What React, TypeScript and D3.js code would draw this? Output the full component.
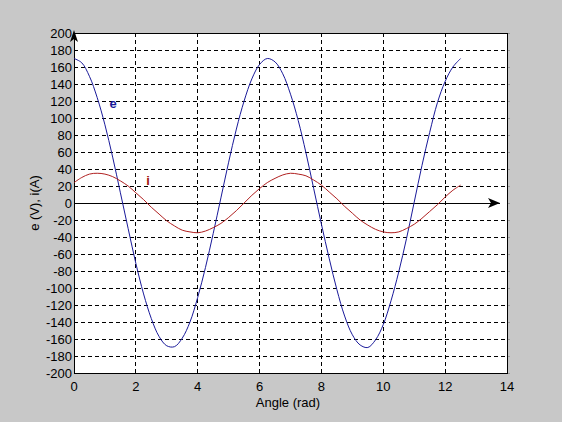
import React from "react";
import * as d3 from "d3";

const angles = [0,0.25,0.5,0.75,1,1.25,1.5,1.75,2,2.25,2.5,2.75,3,3.25,3.5,3.75,4,4.25,4.5,4.75,5,5.25,5.5,5.75,6,6.25,6.5,6.75,7,7.25,7.5,7.75,8,8.25,8.5,8.75,9,9.25,9.5,9.75,10,10.25,10.5,10.75,11,11.25,11.5,11.75,12,12.25,12.5];
const eValues = [170,165,149,124,92,54,12,-30,-71,-107,-136,-157,-168,-169,-159,-140,-111,-76,-36,6,48,87,120,146,163,170,166,152,128,97,59,17,-25,-65,-102,-133,-155,-167,-170,-161,-143,-115,-81,-42,1,44,83,118,143,160,170];
const iValues = [24,30,34,35,34,31,26,20,12,4,-5,-13,-21,-27,-32,-34,-35,-33,-29,-24,-17,-9,0,9,17,24,29,33,35,34,32,27,21,13,5,-4,-12,-20,-26,-31,-34,-35,-34,-30,-25,-18,-10,-2,7,15,21];
const xTicks = [0,2,4,6,8,10,12,14];
const yTicks = d3.range(-200, 201, 20);
const xLabel = "Angle (rad)";
const yLabel = "e (V), i(A)";

export default function App() {
  const W = 562, H = 422;
  const L = 74, R = 507, T = 33, B = 373;
  const x = d3.scaleLinear().domain([0, 14]).range([L, R]);
  const y = d3.scaleLinear().domain([-200, 200]).range([B, T]);
  const lineGen = (vals: number[]) =>
    d3.line<number>().x((_, k) => x(angles[k])).y((v) => y(v)).curve(d3.curveCatmullRom)(vals) || "";
  const font = "'Liberation Sans', Arial, sans-serif";
  const y0 = y(0);
  return (
    <svg width={W} height={H} style={{ position: "absolute", left: 0, top: 0 }} fontFamily={font}>
      <rect x={0} y={0} width={W} height={H} fill="#c8c8c8" />
      <rect x={L} y={T} width={R - L} height={B - T} fill="#ffffff" />
      {yTicks.filter(v => v !== -200 && v !== 200 && v !== 0).map(v => (
        <line key={"gy" + v} x1={L} x2={R} y1={y(v)} y2={y(v)} stroke="#000" strokeWidth={1} strokeDasharray="4,3" shapeRendering="crispEdges" />
      ))}
      {xTicks.filter(v => v !== 0 && v !== 14).map(v => (
        <line key={"gx" + v} x1={x(v)} x2={x(v)} y1={T} y2={B} stroke="#000" strokeWidth={1} strokeDasharray="4,3" shapeRendering="crispEdges" />
      ))}
      {yTicks.map(v => (
        <g key={"ty" + v}>
          <line x1={R} x2={R + 3} y1={y(v)} y2={y(v)} stroke="#999" shapeRendering="crispEdges" />
          <text x={L - 2} y={y(v)} dy="0.36em" textAnchor="end" fontSize={13} fill="#000">{v}</text>
        </g>
      ))}
      {xTicks.map(v => (
        <text key={"tx" + v} x={x(v)} y={391} textAnchor="middle" fontSize={13} fill="#000">{v}</text>
      ))}
      <text x={288} y={407} textAnchor="middle" fontSize={13} fill="#000">{xLabel}</text>
      <text transform={`translate(39,${y0}) rotate(-90)`} textAnchor="middle" fontSize={13} fill="#000">{yLabel}</text>
      <rect x={L} y={T} width={R - L} height={B - T} fill="none" stroke="#000" strokeWidth={1} shapeRendering="crispEdges" />
      <line x1={L} x2={500} y1={y0} y2={y0} stroke="#000" strokeWidth={1} shapeRendering="crispEdges" />
      <path d={`M500,${y0} L488,${y0 - 5} L491,${y0} L488,${y0 + 5} Z`} fill="#000" />
      <path d={`M${L},${T - 3} L${L - 4},${T + 9} L${L},${T + 6} L${L + 4},${T + 9} Z`} fill="#000" />
      <path d={lineGen(eValues)} fill="none" stroke="#1a1a9a" strokeWidth={1} />
      <path d={lineGen(iValues)} fill="none" stroke="#b02020" strokeWidth={1} />
      <text x={113} y={108} textAnchor="middle" fontSize={13} fontWeight="bold" fill="#1a1a9a">e</text>
      <text x={148} y={185} textAnchor="middle" fontSize={13} fontWeight="bold" fill="#a01010">i</text>
    </svg>
  );
}
